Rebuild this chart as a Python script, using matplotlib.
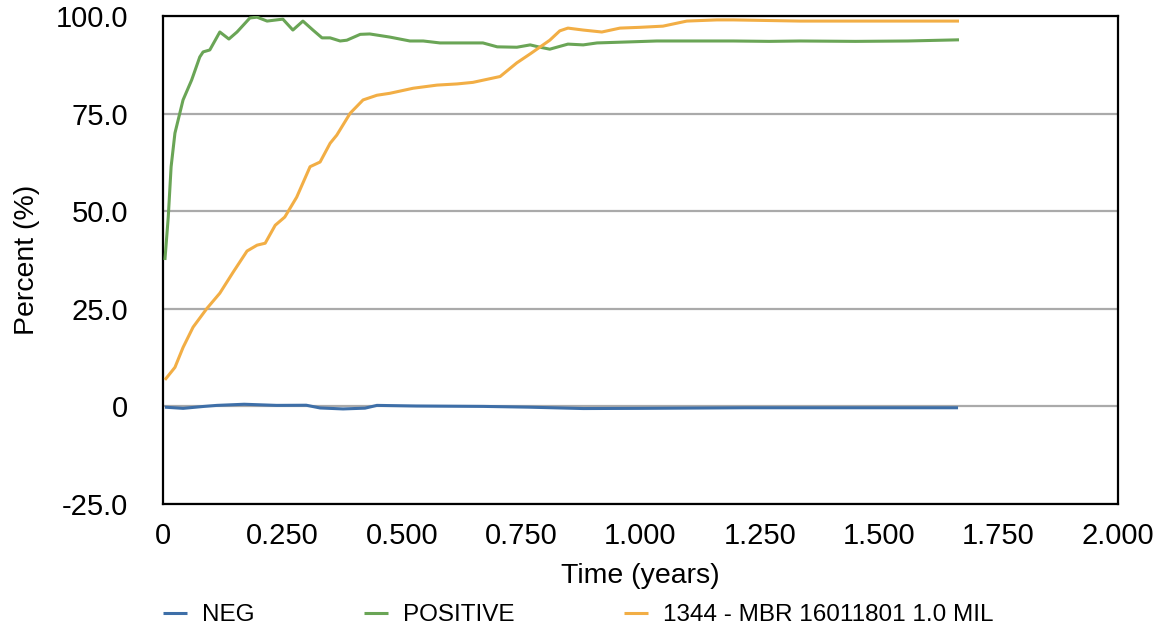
import matplotlib
matplotlib.use("Agg")
import matplotlib.pyplot as plt

plt.rcParams['font.family'] = ['Liberation Sans', 'DejaVu Sans']

# NEG control
neg_x = [0.004, 0.042, 0.086, 0.113, 0.17, 0.238, 0.30, 0.329, 0.377, 0.423, 0.448,
         0.53, 0.67, 0.767, 0.88, 0.995, 1.22, 1.665]
neg_y = [-0.2, -0.5, 0.0, 0.26, 0.55, 0.26, 0.3, -0.4, -0.65, -0.45, 0.26,
         0.1, 0.0, -0.2, -0.55, -0.5, -0.35, -0.35]

# POSITIVE control
pos_x = [0.004, 0.011, 0.017, 0.025, 0.042, 0.06, 0.077, 0.084, 0.098, 0.119, 0.138,
         0.155, 0.182, 0.197, 0.218, 0.251, 0.272, 0.293, 0.314, 0.333, 0.350, 0.371,
         0.385, 0.413, 0.433, 0.475, 0.517, 0.545, 0.58, 0.637, 0.67, 0.70, 0.741,
         0.769, 0.786, 0.81, 0.848, 0.88, 0.909, 0.985, 1.034, 1.09, 1.194, 1.27,
         1.334, 1.45, 1.56, 1.667]
pos_y = [37.5, 48.5, 61.4, 70.0, 78.5, 83.6, 89.5, 90.8, 91.3, 95.9, 94.1,
         95.9, 99.5, 99.7, 98.7, 99.2, 96.4, 98.7, 96.4, 94.4, 94.4, 93.6,
         93.8, 95.3, 95.4, 94.6, 93.6, 93.6, 93.1, 93.1, 93.1, 92.1, 92.0,
         92.6, 92.1, 91.5, 92.8, 92.6, 93.1, 93.4, 93.6, 93.6, 93.6, 93.5,
         93.6, 93.5, 93.6, 93.9]

# 1344 - MBR 16011801 1.0 MIL
smp_x = [0.004, 0.025, 0.042, 0.063, 0.092, 0.119, 0.147, 0.176, 0.197, 0.214, 0.235,
         0.255, 0.28, 0.308, 0.329, 0.35, 0.364, 0.392, 0.419, 0.448, 0.475, 0.524,
         0.574, 0.616, 0.649, 0.706, 0.741, 0.769, 0.81, 0.831, 0.848, 0.88, 0.919,
         0.957, 0.999, 1.047, 1.097, 1.16, 1.194, 1.334, 1.50, 1.667]
smp_y = [6.8, 10.0, 15.1, 20.3, 25.1, 29.0, 34.4, 39.8, 41.3, 41.8, 46.4,
         48.5, 53.6, 61.4, 62.6, 67.4, 69.5, 75.1, 78.5, 79.7, 80.2, 81.5,
         82.3, 82.6, 83.0, 84.5, 88.0, 90.3, 93.8, 96.2, 96.9, 96.4, 95.9,
         96.9, 97.1, 97.4, 98.7, 99.0, 99.0, 98.7, 98.7, 98.7]

x_ticks = [0, 0.25, 0.5, 0.75, 1.0, 1.25, 1.5, 1.75, 2.0]
x_labels = ['0', '0.250', '0.500', '0.750', '1.000', '1.250', '1.500', '1.750', '2.000']
y_ticks = [-25, 0, 25, 50, 75, 100]
y_labels = ['-25.0', '0', '25.0', '50.0', '75.0', '100.0']

fig = plt.figure(figsize=(11.69, 6.31), dpi=100)
ax = fig.add_axes([163 / 1169, 1 - 504 / 631, (1118 - 163) / 1169, (504 - 16) / 631])

style = dict(lw=2.2, zorder=3, solid_joinstyle='round', solid_capstyle='butt')
ax.plot(neg_x, neg_y, color='#3E6FA8', label='NEG', **style)
ax.plot(pos_x, pos_y, color='#6AA556', label='POSITIVE', **style)
ax.plot(smp_x, smp_y, color='#F2AE45', label='1344 - MBR 16011801 1.0 MIL', **style)

ax.set_xlim(0, 2.0)
ax.set_ylim(-25, 100)
ax.set_xticks(x_ticks)
ax.set_xticklabels(x_labels)
ax.set_yticks(y_ticks)
ax.set_yticklabels(y_labels)
ax.tick_params(axis='both', length=0, labelsize=21)
ax.tick_params(axis='x', pad=13)
ax.tick_params(axis='y', pad=25)

# horizontal grid only
ax.yaxis.grid(True, color='#AAAAAA', lw=1.6)
ax.set_axisbelow(True)
for s in ax.spines.values():
    s.set_linewidth(1.6)
    s.set_color('black')

ax.set_xlabel('Time (years)', fontsize=20.5, labelpad=9)
ax.set_ylabel('Percent (%)', fontsize=20.5, labelpad=11)

fig.legend(loc='center left', bbox_to_anchor=(163 / 1169, 1 - 615 / 631), ncol=3,
           frameon=False, fontsize=17.5, handlelength=1.0, handletextpad=0.6,
           columnspacing=4.5, borderpad=0, borderaxespad=0)

fig.savefig('out.png', dpi=100)
